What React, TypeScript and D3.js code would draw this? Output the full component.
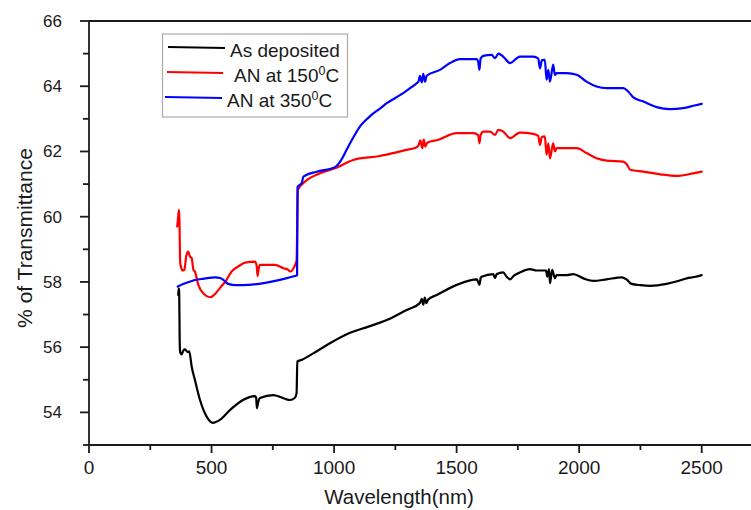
import React from 'react';
import * as d3 from 'd3';

type Pt = [number, number];

const xTicks = [0, 500, 1000, 1500, 2000, 2500];
const xMinorTicks = [250, 750, 1250, 1750, 2250];
const yTicks = [54, 56, 58, 60, 62, 64, 66];
const yMinorTicks = [53, 55, 57, 59, 61, 63, 65];

const asDeposited: Pt[] = [
  [364, 57.6], [366, 57.8], [368, 57.7], [370, 56.2], [372, 55.85], [378, 55.78], [385, 55.9], [392, 55.93],
  [402, 55.85], [409, 55.87], [419, 55.4], [432, 55.0], [453, 54.38], [480, 53.87], [505, 53.68],
  [534, 53.77], [575, 54.07], [628, 54.38], [677, 54.5], [682, 54.45], [685, 54.13], [690, 54.3],
  [698, 54.44], [752, 54.53], [820, 54.38], [840, 54.45], [847, 54.59], [850, 55.56], [868, 55.61],
  [915, 55.81], [983, 56.12], [1065, 56.44], [1140, 56.63], [1215, 56.83], [1296, 57.14], [1350, 57.35],
  [1358, 57.48], [1364, 57.3], [1370, 57.52], [1376, 57.35], [1384, 57.46], [1419, 57.6], [1500, 57.91],
  [1582, 58.08], [1588, 58.0], [1593, 57.91], [1598, 58.12], [1602, 58.16], [1650, 58.24], [1656, 58.12],
  [1664, 58.24], [1690, 58.29], [1705, 58.15], [1718, 58.08], [1735, 58.2], [1758, 58.29], [1799, 58.39],
  [1827, 58.35], [1860, 58.35], [1865, 58.35], [1870, 58.16], [1877, 58.39], [1881, 57.96], [1890, 58.37],
  [1901, 58.11], [1908, 58.21], [1949, 58.21], [1976, 58.24], [2020, 58.1], [2058, 58.03], [2112, 58.08],
  [2173, 58.14], [2193, 58.08], [2214, 57.94], [2250, 57.9], [2289, 57.88], [2357, 57.94], [2400, 58.02],
  [2439, 58.11], [2470, 58.15], [2500, 58.21],
];

const an150: Pt[] = [
  [360, 59.7], [364, 60.0], [367, 60.21], [369, 59.9], [372, 58.6], [375, 58.47], [381, 58.35],
  [389, 58.37], [397, 58.8], [405, 58.93], [412, 58.78], [419, 58.73], [426, 58.37], [432, 58.32],
  [446, 57.91], [470, 57.62], [494, 57.53], [510, 57.6], [534, 57.81], [560, 58.05], [582, 58.32],
  [610, 58.48], [637, 58.59], [677, 58.62], [684, 58.5], [688, 58.18], [692, 58.4], [698, 58.52],
  [759, 58.52], [793, 58.42], [813, 58.37], [820, 58.32], [838, 58.47], [847, 58.67], [852, 60.82],
  [875, 61.03], [942, 61.33], [1010, 61.5], [1078, 61.74], [1187, 61.86], [1241, 61.95], [1290, 62.04],
  [1337, 62.13], [1345, 62.2], [1352, 62.34], [1360, 62.1], [1366, 62.36], [1372, 62.15], [1380, 62.27],
  [1426, 62.36], [1500, 62.56], [1568, 62.56], [1588, 62.5], [1593, 62.25], [1598, 62.5], [1609, 62.61],
  [1636, 62.61], [1657, 62.51], [1670, 62.66], [1690, 62.61], [1718, 62.41], [1758, 62.58], [1813, 62.54],
  [1833, 62.48], [1840, 62.2], [1848, 62.45], [1860, 62.46], [1867, 61.9], [1874, 62.25], [1881, 61.79],
  [1894, 62.25], [1901, 62.0], [1908, 62.1], [1949, 62.1], [1990, 62.1], [2030, 61.95], [2071, 61.79],
  [2112, 61.72], [2180, 61.69], [2195, 61.6], [2208, 61.44], [2262, 61.38], [2330, 61.3], [2398, 61.25],
  [2466, 61.33], [2500, 61.38],
];

const an350: Pt[] = [
  [362, 57.86], [400, 57.98], [432, 58.06], [470, 58.1], [514, 58.14], [535, 58.12], [548, 58.06],
  [568, 57.94], [600, 57.9], [650, 57.91], [700, 57.95], [745, 58.01], [800, 58.1], [840, 58.18],
  [849, 58.2], [851, 60.92], [868, 61.03], [875, 61.23], [929, 61.38], [1004, 61.52], [1030, 61.75],
  [1051, 62.05], [1080, 62.45], [1106, 62.77], [1135, 63.0], [1160, 63.17], [1190, 63.33], [1215, 63.48],
  [1250, 63.64], [1282, 63.79], [1310, 63.94], [1337, 64.09], [1345, 64.15], [1350, 64.32], [1358, 64.12],
  [1364, 64.38], [1371, 64.14], [1378, 64.32], [1432, 64.5], [1473, 64.71], [1514, 64.83], [1582, 64.83],
  [1588, 64.75], [1593, 64.5], [1598, 64.85], [1609, 64.93], [1643, 64.96], [1657, 64.86], [1670, 65.0],
  [1690, 64.91], [1718, 64.71], [1758, 64.91], [1813, 64.91], [1833, 64.85], [1840, 64.55], [1848, 64.8],
  [1860, 64.81], [1867, 64.2], [1874, 64.5], [1881, 64.14], [1894, 64.66], [1901, 64.35], [1908, 64.4],
  [1949, 64.4], [1990, 64.35], [2030, 64.14], [2071, 63.99], [2112, 63.94], [2180, 63.94], [2200, 63.84],
  [2221, 63.66], [2262, 63.53], [2316, 63.36], [2370, 63.3], [2425, 63.33], [2466, 63.4], [2500, 63.46],
];

const seriesData = [asDeposited, an150, an350];
const seriesColors = ['#000000', '#ff0000', '#0000ff'];

const FONT = "'Liberation Sans', Arial, Helvetica, sans-serif";

export default function App() {
  const W = 751;
  const H = 510;
  const x = d3.scaleLinear().domain([0, 2500]).range([89, 701.7]);
  const y = d3.scaleLinear().domain([53, 66]).range([445, 21]);
  const line = d3.line<Pt>().x((d) => x(d[0])).y((d) => y(d[1])).curve(d3.curveMonotoneX);
  const axisColor = '#1a1a1a';
  const x0 = x(0);
  const yb = y(53);
  const yt = y(66);

  const legendRows = [
    { lx1: 168, ly1: 47, lx2: 225, ly2: 48, tx: 230, ty: 57, base: 'As deposited', sup: false },
    { lx1: 167, ly1: 72, lx2: 223, ly2: 73, tx: 234, ty: 82, base: 'AN at 150', sup: true },
    { lx1: 165, ly1: 97, lx2: 222, ly2: 98, tx: 227, ty: 107, base: 'AN at 350', sup: true },
  ];

  return (
    <svg
      width={W}
      height={H}
      style={{ position: 'absolute', left: 0, top: 0, background: '#fff' }}
      fontFamily={FONT}
    >
      <rect x={0} y={0} width={W} height={H} fill="#fff" />
      {seriesData.map((d, i) => (
        <path
          key={i}
          d={line(d) || ''}
          fill="none"
          stroke={seriesColors[i]}
          strokeWidth={2.2}
          strokeLinejoin="round"
          strokeLinecap="round"
        />
      ))}
      <line x1={x0} y1={yt} x2={W + 5} y2={yt} stroke={axisColor} strokeWidth={1.8} />
      <line x1={x0} y1={yt} x2={x0} y2={yb} stroke={axisColor} strokeWidth={1.8} />
      <line x1={x0} y1={yb} x2={W + 5} y2={yb} stroke={axisColor} strokeWidth={1.8} />
      {xTicks.map((t) => (
        <g key={'xt' + t}>
          <line x1={x(t)} x2={x(t)} y1={yb} y2={yb + 8} stroke={axisColor} strokeWidth={1.8} />
          <text x={x(t)} y={474} textAnchor="middle" fontSize={19} fill="#1a1a1a">
            {t}
          </text>
        </g>
      ))}
      {xMinorTicks.map((t) => (
        <line key={'xm' + t} x1={x(t)} x2={x(t)} y1={yb} y2={yb + 5} stroke={axisColor} strokeWidth={1.8} />
      ))}
      {yTicks.map((t) => (
        <g key={'yt' + t}>
          <line x1={x0 - 9} x2={x0} y1={y(t)} y2={y(t)} stroke={axisColor} strokeWidth={1.8} />
          <text x={62} y={y(t) + 6} textAnchor="end" fontSize={17} fill="#1a1a1a">
            {t}
          </text>
        </g>
      ))}
      {yMinorTicks.map((t) => (
        <line key={'ym' + t} x1={x0 - 6} x2={x0} y1={y(t)} y2={y(t)} stroke={axisColor} strokeWidth={1.8} />
      ))}
      <text x={399} y={504} textAnchor="middle" fontSize={20.5} fill="#1a1a1a">
        Wavelength(nm)
      </text>
      <text
        transform={`translate(32, 238) rotate(-90)`}
        textAnchor="middle"
        fontSize={21}
        fill="#1a1a1a"
      >
        % of Transmittance
      </text>
      <rect x={162.5} y={34} width={185} height={83} fill="#fff" stroke="#aaa" strokeWidth={1.2} />
      {legendRows.map((r, i) => (
        <g key={'lg' + i}>
          <line x1={r.lx1} y1={r.ly1} x2={r.lx2} y2={r.ly2} stroke={seriesColors[i]} strokeWidth={2.2} />
          <text x={r.tx} y={r.ty} fontSize={19} fill="#1a1a1a">
            {r.base}
            {r.sup ? (
              <>
                <tspan fontSize={12.5} dy={-7}>0</tspan>
                <tspan dy={7}>C</tspan>
              </>
            ) : null}
          </text>
        </g>
      ))}
    </svg>
  );
}
